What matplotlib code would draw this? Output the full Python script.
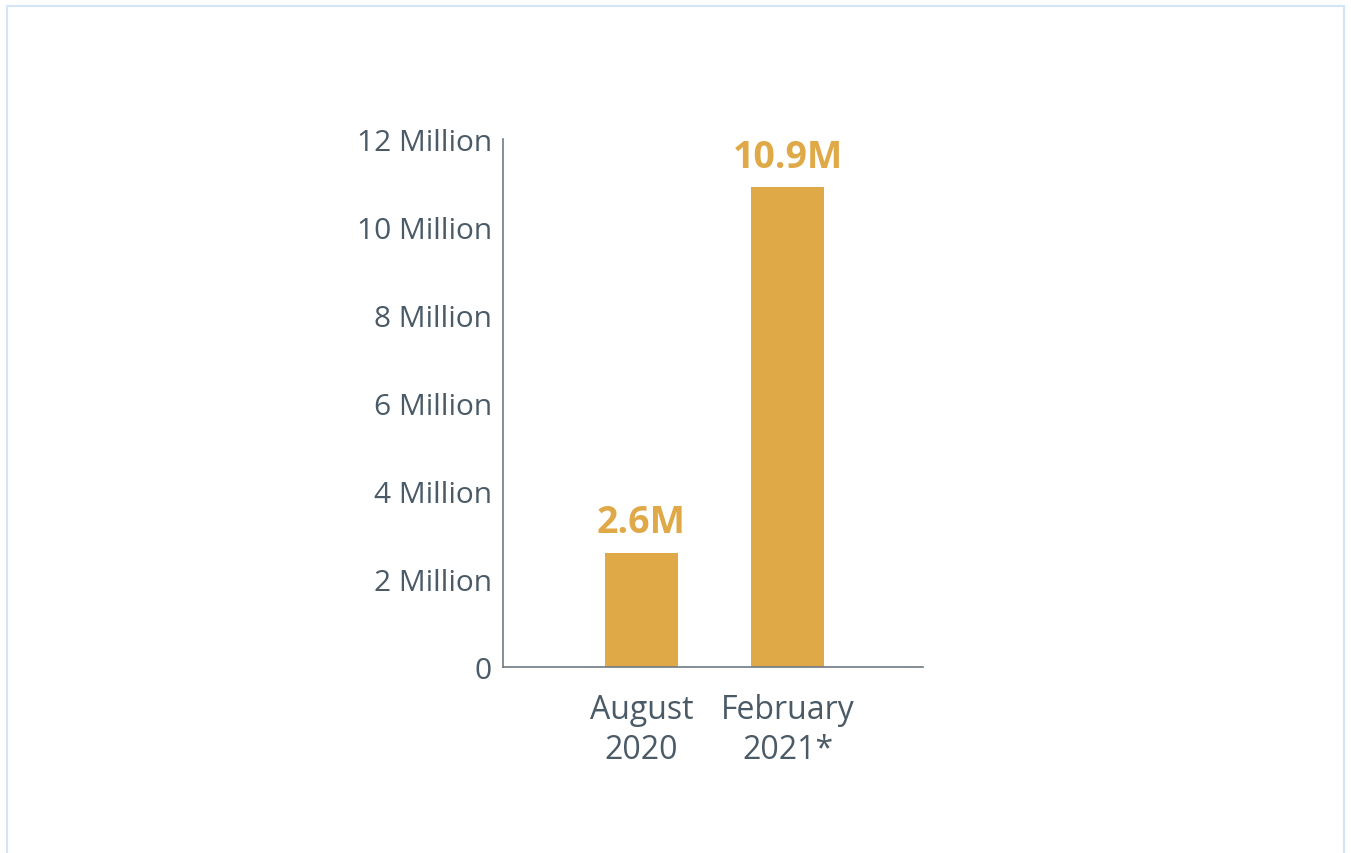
import matplotlib
matplotlib.use('Agg')
import matplotlib.pyplot as plt
from matplotlib.patches import Rectangle

# datos
categories = ['August\n2020', 'February\n2021*']
values = [2.6, 10.9]          # millones
bar_labels = ['2.6M', '10.9M']
y_ticks = [0, 2, 4, 6, 8, 10, 12]
y_tick_labels = ['0', '2 Million', '4 Million', '6 Million', '8 Million', '10 Million', '12 Million']

GOLD = '#E0A947'
TEXT = '#4A5A66'
SPINE = '#6F7A82'

plt.rcParams['font.family'] = ['Open Sans', 'DejaVu Sans']

fig = plt.figure(figsize=(13.51, 8.54), dpi=100)
ax = fig.add_axes([0.3723, 0.2178, 0.3109, 0.6183])

x = list(range(len(values)))
bars = ax.bar(x, values, width=0.5, color=GOLD)

for xi, v, lab in zip(x, values, bar_labels):
    ax.annotate(lab, (xi, v), xytext=(0, 8), textcoords='offset points',
                ha='center', va='bottom', fontsize=27, fontweight='bold', color=GOLD)

ax.set_xlim(-0.949, 1.928)
ax.set_ylim(0, 12)
ax.set_yticks(y_ticks)
ax.set_yticklabels(y_tick_labels, fontsize=21.5)
ax.set_xticks(x)
ax.set_xticklabels(categories, fontsize=23, linespacing=1.25)

ax.tick_params(axis='both', length=0, colors=TEXT)
ax.tick_params(axis='y', pad=8)
ax.tick_params(axis='x', pad=19)

for s in ['top', 'right']:
    ax.spines[s].set_visible(False)
for s in ['left', 'bottom']:
    ax.spines[s].set_color(SPINE)
    ax.spines[s].set_linewidth(1.2)

# marco exterior
fig.patches.append(Rectangle((7 / 1351, -0.01), 1337 / 1351, 1 - 7 / 854 + 0.01,
                             transform=fig.transFigure, fill=False,
                             edgecolor='#D4E5F5', linewidth=1.5))

fig.savefig('out.png', dpi=100)
